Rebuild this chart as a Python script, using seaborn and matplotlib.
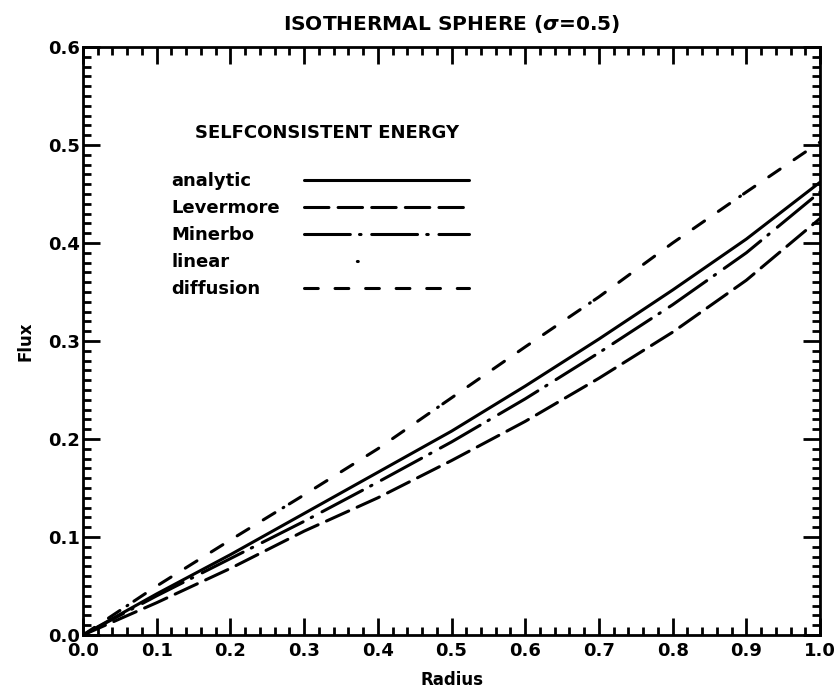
import pandas as pd
import seaborn as sns
import matplotlib.pyplot as plt
from matplotlib.lines import Line2D
from matplotlib.ticker import MultipleLocator


# valores (fluxo x raio)
radius = [0.0, 0.1, 0.2, 0.3, 0.4, 0.5, 0.6, 0.7, 0.8, 0.9, 1.0]
flux_analytic = [0.0, 0.042, 0.082, 0.124, 0.166, 0.208, 0.254, 0.302, 0.352, 0.404, 0.462]
flux_levermore = [0.0, 0.033, 0.068, 0.106, 0.140, 0.178, 0.218, 0.262, 0.309, 0.362, 0.425]
flux_minerbo = [0.0, 0.040, 0.078, 0.116, 0.156, 0.197, 0.241, 0.288, 0.337, 0.390, 0.452]
flux_linear = [0.0, 0.050, 0.097, 0.143, 0.190, 0.242, 0.294, 0.345, 0.400, 0.452, 0.503]
flux_diffusion = [0.0, 0.050, 0.097, 0.143, 0.190, 0.242, 0.294, 0.345, 0.400, 0.452, 0.503]

modelos = ['analytic', 'Levermore', 'Minerbo', 'linear', 'diffusion']
series = [flux_analytic, flux_levermore, flux_minerbo, flux_linear, flux_diffusion]

tracos = {'analytic': '',
          'Levermore': (8, 3),
          'Minerbo': (15, 3, 0.5, 3.5),
          'linear': (0.3, 60),
          'diffusion': (4.5, 5.5)}

# dataframe no formato longo
dados = pd.concat([pd.DataFrame({'Radius': radius, 'Flux': s, 'Modelo': m})
                   for m, s in zip(modelos, series)], ignore_index=True)

sns.set_style('ticks')
plt.rcParams['font.family'] = ['DejaVu Sans']
plt.rcParams['font.weight'] = 'bold'
plt.rcParams['text.color'] = 'black'
plt.rcParams['axes.labelcolor'] = 'black'
plt.rcParams['xtick.color'] = 'black'
plt.rcParams['ytick.color'] = 'black'

fig = plt.figure(figsize=(8.36, 6.96), dpi=100)
ax = fig.add_axes([0.0993, 0.0876, 0.8816, 0.8449])

sns.lineplot(data=dados, x='Radius', y='Flux', style='Modelo', style_order=modelos,
             dashes=tracos, color='black', linewidth=2.2, estimator=None,
             legend=False, ax=ax, dash_capstyle='round', solid_capstyle='round')

# desloca os pontos do "linear" para cair no meio da amostra da legenda
ax.lines[3].set_linestyle((43, (0.3, 60)))

ax.set_xlim(0, 1)
ax.set_ylim(0, 0.6)
ax.xaxis.set_major_locator(MultipleLocator(0.1))
ax.xaxis.set_minor_locator(MultipleLocator(0.02))
ax.yaxis.set_major_locator(MultipleLocator(0.1))
ax.yaxis.set_minor_locator(MultipleLocator(0.01))
ax.xaxis.set_major_formatter('{x:.1f}')
ax.yaxis.set_major_formatter('{x:.1f}')

ax.tick_params(which='both', direction='in', top=True, right=True, width=2, color='black')
ax.tick_params(which='major', length=12, labelsize=13)
ax.tick_params(axis='x', which='major', pad=5)
ax.tick_params(axis='y', which='major', pad=2)
ax.tick_params(which='minor', length=6)
for s in ax.spines.values():
    s.set_linewidth(2)
    s.set_color('black')

ax.set_xlabel('Radius', fontsize=12, fontweight='bold', labelpad=8)
ax.set_ylabel('Flux', fontsize=12, fontweight='bold', labelpad=10)
ax.set_title(r'ISOTHERMAL SPHERE ($\sigma$=0.5)', fontsize=14.5, fontweight='bold', pad=12)

# legenda em duas colunas: nomes a esquerda, amostras de linha a direita
vazio = [Line2D([], [], color='none') for _ in modelos]
handles = vazio + list(ax.lines[:5])
labels = modelos + [''] * 5
ax.legend(handles, labels, ncol=2, loc='upper left', bbox_to_anchor=(-0.115, 0.787),
          frameon=False, fontsize=13, handlelength=9.1, handletextpad=0.5,
          columnspacing=1.33, labelspacing=0.5, borderpad=0, borderaxespad=0)

ax.text(0.331, 0.854, 'SELFCONSISTENT ENERGY', transform=ax.transAxes,
        ha='center', va='center', fontsize=13, fontweight='bold')

plt.savefig('out.png', dpi=100)
